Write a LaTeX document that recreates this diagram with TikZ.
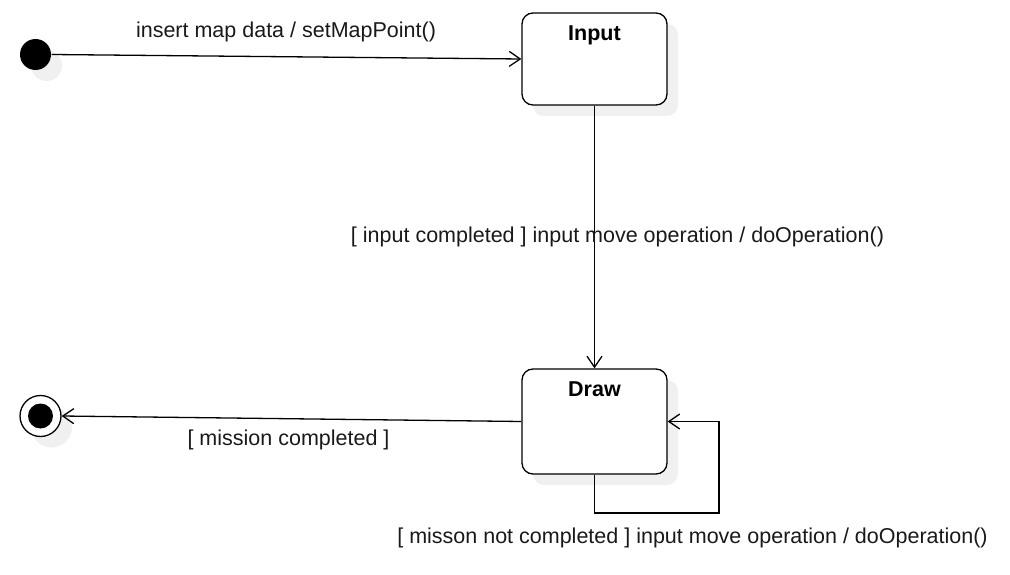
\documentclass[tikz,border=0pt]{standalone}
\usepackage{fontspec}
\setmainfont{Liberation Sans}
\usetikzlibrary{positioning, shadows, arrows.meta}

\begin{document}
\begin{tikzpicture}[x=1pt, y=-1pt, line width=1.3pt,
    >={Straight Barb[length=11pt,width=15pt]},
    every node/.style={font=\fontsize{21.5}{26}\selectfont},
    shade/.style={drop shadow={shadow xshift=11pt, shadow yshift=-11pt, fill=black!6, opacity=1}},
    state/.style={draw, rounded corners=11pt, fill=white, minimum width=145pt, shade},
    title/.style={inner sep=0pt, font=\fontsize{21.5}{26}\selectfont\bfseries},
    lbl/.style={inner sep=0pt, text=black!90}]
    \useasboundingbox (0,0) rectangle (1010,575);

    \node (start) at (35.5,54.5) [circle, fill=black, minimum size=31pt, inner sep=0pt, shade]{};
    \node (inputState) at (594.5,59) [state, minimum height=92pt]{};
    \node (drawState) at (594.5,421.5) [state, minimum height=105pt]{};
    \node (final) at (40.5,416) [circle, draw, fill=white, minimum size=41pt, inner sep=0pt, shade]{};
    \fill (final.center) circle (12.5pt);

    \node (inputTitle) [title, below=13pt of inputState.north]{Input};
    \node (drawTitle) [title, below=13pt of drawState.north]{Draw};

    \coordinate (loopCorner) at (719,513);

    \draw[->] (start.east) -- (inputState.west);
    \draw[->] (inputState.south) -- (drawState.north);
    \draw[->] (drawState.west) -- (final.east);
    \draw[->] (drawState.south) |- (loopCorner) |- (drawState.east);

    \node (initLabel) at (286,31.5)[lbl]{insert map data / setMapPoint()};
    \node (inputLabel) at (617.5,236.5)[lbl]{[ input completed ] input move operation / doOperation()};
    \node (doneLabel) at (288.5,439.5)[lbl]{[ mission completed ]};
    \node (loopLabel) at (692.5,537.5)[lbl]{[ misson not completed ] input move operation / doOperation()};
\end{tikzpicture}
\end{document}
